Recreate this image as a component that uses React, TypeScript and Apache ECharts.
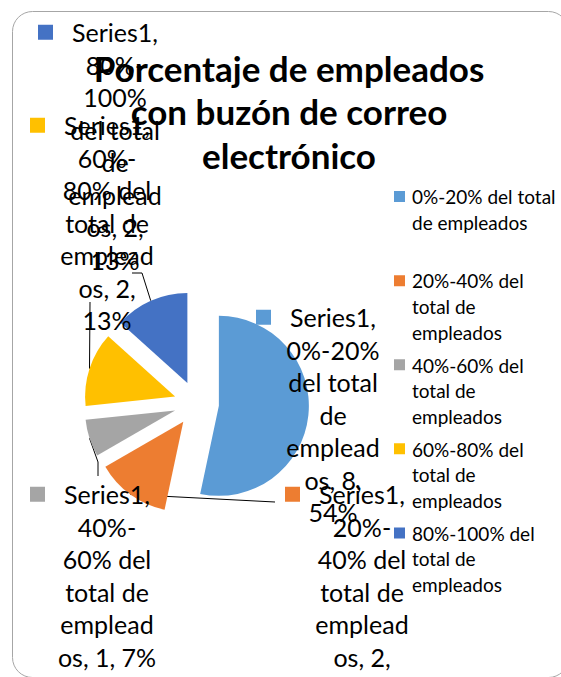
import React, { useEffect, useRef } from 'react';
import * as echarts from 'echarts';

const seriesName = 'Series1';
const categories = [
  '0%-20% del total de empleados',
  '20%-40% del total de empleados',
  '40%-60% del total de empleados',
  '60%-80% del total de empleados',
  '80%-100% del total de empleados',
];
const values = [8, 2, 1, 2, 2];
const colors = ['#5B9BD5', '#ED7D31', '#A5A5A5', '#FFC000', '#4472C4'];
const titleText = 'Porcentaje de empleados\ncon buzón de correo\nelectrónico';

const FONT = 'Lato';
const LABEL_SIZE = 25;
const LABEL_LH = 32.5;
const LABEL_MAXW = 3.95 * LABEL_SIZE;
const LEGEND_SIZE = 19;
const LEGEND_LH = 25.7;
const LEGEND_MAXW = 7.9 * LEGEND_SIZE;

const PIE_CX = 196.5;
const PIE_CY = 403.5;
const PIE_R = 90;
const EXPLODE = 22.5;

// label placement (center x, top y) per slice
const labelAnchors: [number, number][] = [
  [333, 301],
  [362, 478],
  [107, 478],
  [107, 109],
  [115, 16],
];
// leader line bends after leaving the slice (null = no leader line)
const leaderBends: ([number, number][] | null)[] = [
  null,
  [[275, 502], [275, 502]],
  [[98, 462], [98, 476]],
  [[90, 302], [90, 302]],
  [[142, 273], [132, 273]],
];

function wrapText(text: string, font: string, maxW: number): string[] {
  const ctx = document.createElement('canvas').getContext('2d')!;
  ctx.font = font;
  const w = (s: string) => ctx.measureText(s).width;
  const tokens: { t: string; sp: boolean }[] = [];
  let cur = '';
  let sp = false;
  for (const ch of text) {
    if (ch === ' ') {
      if (cur) { tokens.push({ t: cur, sp }); cur = ''; }
      sp = true;
      continue;
    }
    cur += ch;
    if (ch === '-') { tokens.push({ t: cur, sp }); cur = ''; sp = false; }
  }
  if (cur) tokens.push({ t: cur, sp });
  const lines: string[] = [];
  let line = '';
  for (const tok of tokens) {
    const cand = line ? line + (tok.sp ? ' ' : '') + tok.t : tok.t;
    if (w(cand) <= maxW) { line = cand; continue; }
    if (line) lines.push(line);
    let rest = tok.t;
    while (w(rest) > maxW) {
      let k = rest.length;
      while (k > 1 && w(rest.slice(0, k)) > maxW) k--;
      lines.push(rest.slice(0, k));
      rest = rest.slice(k);
    }
    line = rest;
  }
  if (line) lines.push(line);
  return lines;
}

export default function App() {
  const ref = useRef<HTMLDivElement>(null);
  useEffect(() => {
    if (!ref.current) return;
    const chart = echarts.init(ref.current, null, { renderer: 'svg' });
    const labelFont = `${LABEL_SIZE}px ${FONT}`;
    const legendFont = `${LEGEND_SIZE}px ${FONT}`;

    const rich: Record<string, any> = {
      gap: { width: 19, height: 15 },
      sqh: { width: 15, height: 15 },
    };
    colors.forEach((c, i) => {
      rich['sq' + i] = { width: 15, height: 15, backgroundColor: c };
    });

    const total = values.reduce((a, b) => a + b, 0);
    const midAngles = values.map((v, i) => {
      const before = values.slice(0, i).reduce((a, b) => a + b, 0);
      return ((before + v / 2) / total) * Math.PI * 2;
    });

    const pieData = categories.map((c, i) => ({ name: c, value: values[i] }));

    const option: any = {
      animation: false,
      color: colors,
      title: {
        text: titleText,
        left: 289,
        top: 46,
        textAlign: 'center',
        padding: 0,
        textStyle: {
          fontFamily: FONT,
          fontWeight: 'bold',
          fontSize: 35,
          lineHeight: 43.5,
          color: '#000',
        },
      },
      legend: {
        orient: 'vertical',
        left: 394,
        top: 184,
        padding: 0,
        itemGap: 7,
        itemWidth: 13,
        itemHeight: 77,
        icon: 'path://M0 7L11 7L11 18L0 18Z M0 0L0 0 M13 77L13 77',
        itemStyle: { borderWidth: 0 },
        data: categories,
        formatter: (name: string) => {
          const lines = wrapText(name, legendFont, LEGEND_MAXW);
          while (lines.length < 3) lines.push('\u00a0');
          return lines.join('\n');
        },
        textStyle: {
          fontFamily: FONT,
          fontSize: LEGEND_SIZE,
          lineHeight: LEGEND_LH,
          color: '#000',
        },
      },
      graphic: [
        {
          type: 'rect',
          shape: { x: 12.5, y: 11.5, width: 556, height: 666, r: 20 },
          style: { fill: 'none', stroke: '#a6a6a6', lineWidth: 1 },
          silent: true,
          z: -1,
        },
      ],
      series: [
        {
          name: seriesName,
          type: 'pie',
          center: [PIE_CX, PIE_CY],
          radius: PIE_R,
          startAngle: 90,
          clockwise: true,
          selectedMode: 'multiple',
          selectedOffset: EXPLODE,
          itemStyle: { borderWidth: 0 },
          emphasis: { disabled: true },
          data: pieData.map((d) => ({ ...d, selected: true })),
          label: { show: false },
          labelLine: { show: false },
        },
        {
          name: seriesName,
          type: 'pie',
          silent: true,
          center: [PIE_CX, PIE_CY],
          radius: PIE_R,
          startAngle: 90,
          clockwise: true,
          avoidLabelOverlap: false,
          percentPrecision: 0,
          selectedMode: false,
          itemStyle: { color: 'rgba(0,0,0,0)', borderWidth: 0 },
          emphasis: { disabled: true },
          data: pieData.map((d, i) => ({
            ...d,
            labelLine: { show: leaderBends[i] != null },
          })),
          label: {
            show: true,
            position: 'outside',
            fontFamily: FONT,
            fontSize: LABEL_SIZE,
            lineHeight: LABEL_LH,
            color: '#000',
            align: 'center',
            rich,
            formatter: (p: any) => {
              const lines = wrapText(`${p.seriesName}, ${p.name}, ${p.value}, ${p.percent}%`, labelFont, LABEL_MAXW);
              lines[0] = `{sq${p.dataIndex}|}{gap|}${lines[0]}{gap|}{sqh|}`;
              return lines.join('\n');
            },
          },
          labelLine: {
            length: 10,
            length2: 10,
            lineStyle: { color: '#000', width: 1 },
          },
          labelLayout: (params: any) => {
            const i = params.dataIndex;
            const a = labelAnchors[i];
            const res: any = { x: a[0], y: a[1], align: 'center', verticalAlign: 'top' };
            const bends = leaderBends[i];
            if (bends) {
              const m = midAngles[i];
              const start = [
                PIE_CX + (PIE_R + EXPLODE) * Math.sin(m),
                PIE_CY - (PIE_R + EXPLODE) * Math.cos(m),
              ];
              res.labelLinePoints = [start, ...bends];
            }
            return res;
          },
        },
      ],
    };
    chart.setOption(option);
    return () => chart.dispose();
  }, []);
  return (
    <div
      ref={ref}
      style={{ position: 'fixed', left: 0, top: 0, width: 561, height: 677, background: '#fff' }}
    />
  );
}
